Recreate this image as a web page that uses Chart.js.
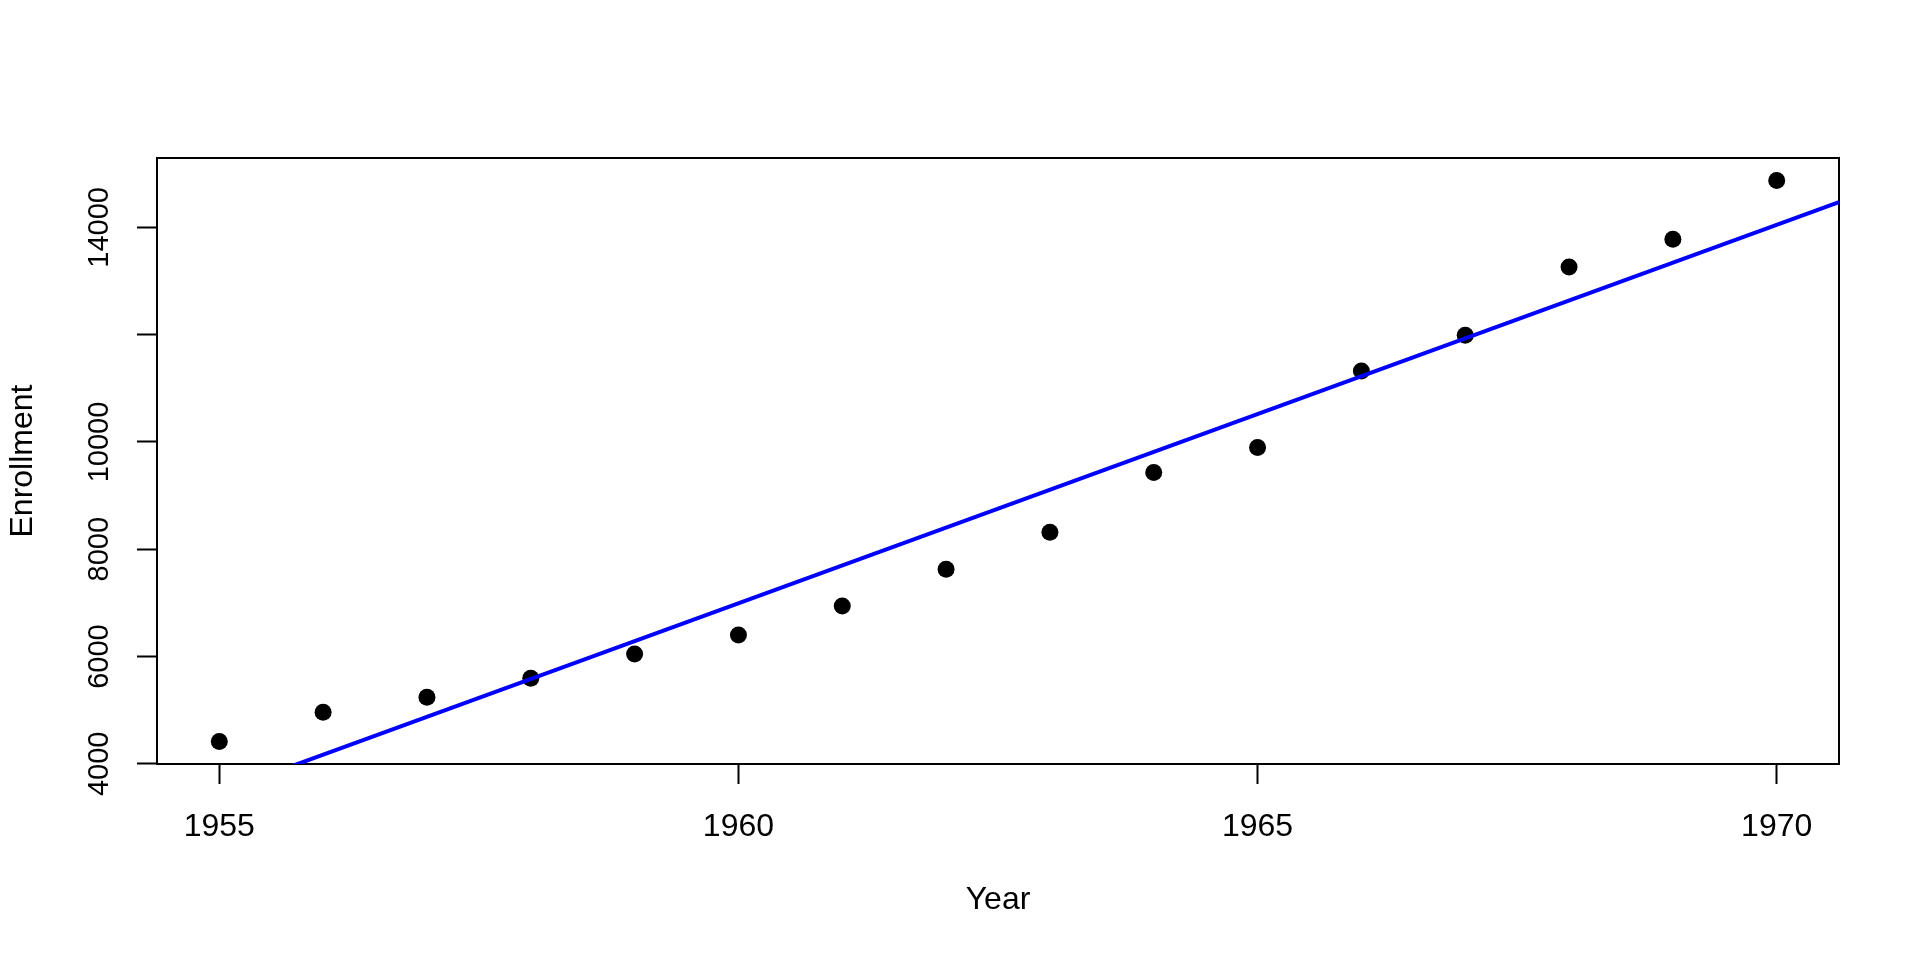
<!DOCTYPE html>
<html>
<head>
<meta charset="utf-8">
<script src="https://cdn.jsdelivr.net/npm/chart.js@4"></script>
<style>
  html, body { margin: 0; padding: 0; background: #fff; }
  #wrap { width: 1920px; height: 960px; }
</style>
</head>
<body>
<div id="wrap"><canvas id="myChart" width="1920" height="960"></canvas></div>
<script>
// data
var years = [1955, 1956, 1957, 1958, 1959, 1960, 1961, 1962, 1963, 1964, 1965, 1966, 1967, 1968, 1969, 1970];
var enrollment = [4415, 4963, 5242, 5596, 6048, 6402, 6942, 7626, 8315, 9432, 9898, 11324, 11989, 13261, 13777, 14875];

var xTicks = [1955, 1960, 1965, 1970];
var yTicks = [4000, 6000, 8000, 10000, 12000, 14000];
var yTickLabels = ['4000', '6000', '8000', '10000', '', '14000'];

// least squares fit, like abline(lm(Enrollment ~ Year))
var n = years.length, mx = 0, my = 0;
for (var i = 0; i < n; i++) { mx += years[i]; my += enrollment[i]; }
mx /= n; my /= n;
var sxy = 0, sxx = 0;
for (var i = 0; i < n; i++) {
  sxy += (years[i] - mx) * (enrollment[i] - my);
  sxx += (years[i] - mx) * (years[i] - mx);
}
var slope = sxy / sxx;
var intercept = my - slope * mx;

// R style 4% axis extension
function padRange(arr) {
  var lo = Math.min.apply(null, arr), hi = Math.max.apply(null, arr);
  var d = (hi - lo) * 0.04;
  return [lo - d, hi + d];
}
var xr = padRange(years);
var yr = padRange(enrollment);

var points = years.map(function (y, i) { return {x: y, y: enrollment[i]}; });
var fitLine = [
  {x: xr[0], y: intercept + slope * xr[0]},
  {x: xr[1], y: intercept + slope * xr[1]}
];

var font = "'Liberation Sans', Arial, Helvetica, sans-serif";

var frame = {
  id: 'frame',
  beforeDatasetsDraw: function (chart) {
    var a = chart.chartArea, c = chart.ctx;
    c.save();
    c.strokeStyle = '#000';
    c.lineWidth = 2;
    c.strokeRect(a.left, a.top, a.right - a.left, a.bottom - a.top);
    c.restore();
  }
};

var ctx = document.getElementById('myChart').getContext('2d');
var myChart = new Chart(ctx, {
  type: 'scatter',
  data: {
    datasets: [{
      type: 'line',
      data: fitLine,
      borderColor: '#0000ff',
      borderWidth: 4,
      pointRadius: 0,
      fill: false,
      order: 0
    }, {
      data: points,
      backgroundColor: '#000',
      borderColor: '#000',
      borderWidth: 0,
      pointRadius: 8.5,
      order: 1
    }]
  },
  options: {
    responsive: false,
    devicePixelRatio: 1,
    animation: false,
    layout: { padding: { top: 158, right: 81, bottom: 0, left: 0 } },
    plugins: {
      legend: { display: false },
      tooltip: { enabled: false }
    },
    scales: {
      x: {
        type: 'linear',
        min: xr[0],
        max: xr[1],
        afterBuildTicks: function (s) { s.ticks = xTicks.map(function (v) { return {value: v}; }); },
        afterFit: function (s) { s.height = 196; },
        ticks: {
          autoSkip: false,
          maxRotation: 0,
          padding: 24,
          color: '#000',
          font: { family: font, size: 32 },
          callback: function (v) { return String(v); }
        },
        grid: { drawOnChartArea: false, drawTicks: true, tickLength: 20, tickColor: '#000', tickWidth: 2 },
        border: { display: true, color: '#000', width: 2 },
        title: {
          display: true,
          text: 'Year',
          color: '#000',
          font: { family: font, size: 32 },
          padding: { top: 0, bottom: 41 }
        }
      },
      y: {
        min: yr[0],
        max: yr[1],
        afterBuildTicks: function (s) { s.ticks = yTicks.map(function (v) { return {value: v}; }); },
        afterFit: function (s) { s.width = 157; },
        ticks: {
          autoSkip: false,
          minRotation: 90,
          maxRotation: 90,
          crossAlign: 'center',
          padding: -3,
          color: '#000',
          font: { family: font, size: 29 },
          callback: function (v, idx) { return yTickLabels[idx]; }
        },
        grid: { drawOnChartArea: false, drawTicks: true, tickLength: 20, tickColor: '#000', tickWidth: 2 },
        border: { display: true, color: '#000', width: 2 },
        title: {
          display: true,
          text: 'Enrollment',
          color: '#000',
          font: { family: font, size: 32 },
          padding: { top: 4, bottom: 0 }
        }
      }
    }
  },
  plugins: [frame]
});
</script>
</body>
</html>
